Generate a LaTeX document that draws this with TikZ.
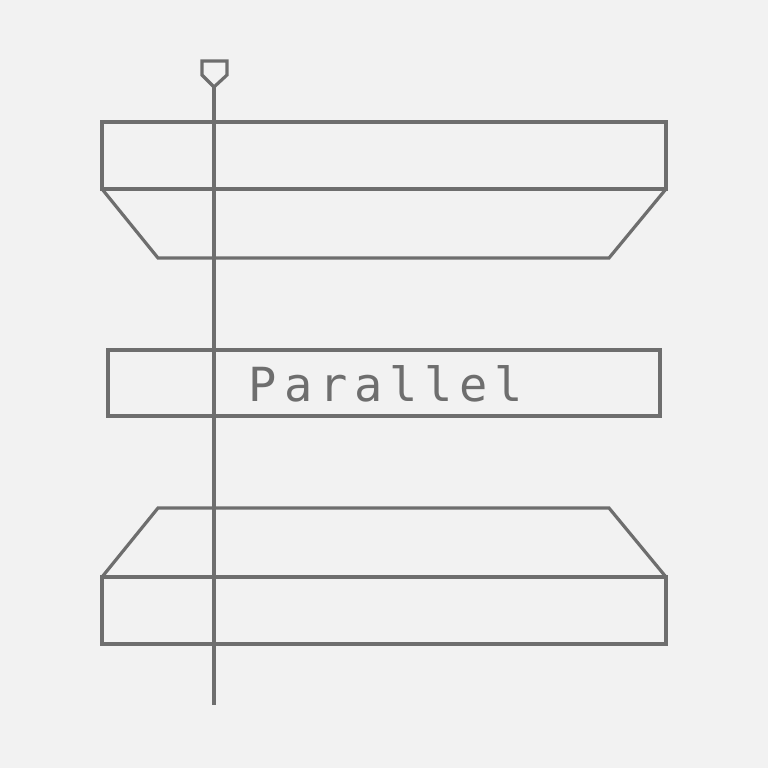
\documentclass[tikz,border=0pt]{standalone}
\usepackage{fontspec}
\newfontfamily\monofont[LetterSpace=14.5]{DejaVu Sans Mono}
\definecolor{bg}{HTML}{F2F2F2}
\definecolor{ln}{HTML}{6E6E6E}
\begin{document}
\begin{tikzpicture}[x=1pt,y=-1pt,
  box/.style={draw=ln,line width=3.2pt,inner sep=0pt,outer sep=0pt,anchor=north west},
  stroke/.style={draw=ln,line width=3.2pt,line join=miter}]
\fill[bg] (0,0) rectangle (768,768);
\useasboundingbox (0,0) rectangle (768,768);
% top block
\node[box,minimum width=564pt,minimum height=67pt] (top) at (102,122) {};
\coordinate (tl) at (158,258);
\coordinate (tr) at (609,258);
\draw[stroke] (top.south west) -- (tl) -- (tr) -- (top.south east);
% middle label
\node[box,minimum width=552pt,minimum height=66pt] (mid) at (108,350) {};
\node[text=ln,font=\monofont\fontsize{47}{50}\selectfont] (lab) at (386,384) {Parallel};
% bottom block
\node[box,minimum width=564pt,minimum height=67pt] (bot) at (102,577) {};
\coordinate (bl) at (158,508);
\coordinate (br) at (609,508);
\draw[stroke] (bot.north west) -- (bl) -- (br) -- (bot.north east);
% vertical line with pin
\coordinate (pin) at (214,87);
\coordinate (lineend) at (214,705);
\draw[stroke] (pin) -- (202,75) -- (202,61) -- (227,61) -- (227,75) -- cycle;
\draw[stroke] (pin) -- (lineend);
\end{tikzpicture}
\end{document}
